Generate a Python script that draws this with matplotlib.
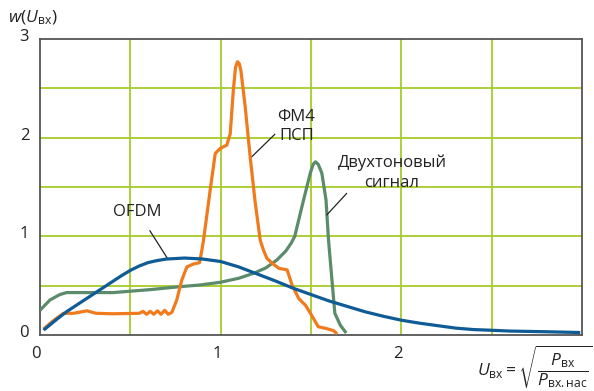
"""
Amplitude distribution w(U_vx) at the amplifier input for three signal
types: OFDM, FM4 with pseudo-random sequence, and a two-tone signal.
"""

import matplotlib

matplotlib.use("Agg")
import matplotlib.pyplot as plt

plt.rcParams["font.family"] = ["Open Sans", "DejaVu Sans"]
plt.rcParams["mathtext.fontset"] = "custom"
plt.rcParams["mathtext.rm"] = "Open Sans"
plt.rcParams["mathtext.it"] = "Open Sans:italic"

# ----- data -----
ofdm_x = [0.02, 0.1, 0.15, 0.2, 0.3, 0.4, 0.45, 0.5, 0.55, 0.6, 0.65, 0.7,
          0.8, 0.9, 1.0, 1.1, 1.2, 1.3, 1.4, 1.5, 1.6, 1.7, 1.8, 1.9, 2.0,
          2.1, 2.2, 2.3, 2.4, 2.5, 2.6, 2.8, 2.99]
ofdm_y = [0.05, 0.17, 0.24, 0.30, 0.42, 0.54, 0.60, 0.655, 0.70, 0.735,
          0.755, 0.77, 0.78, 0.77, 0.745, 0.69, 0.62, 0.55, 0.475, 0.41,
          0.345, 0.29, 0.235, 0.19, 0.15, 0.12, 0.095, 0.07, 0.055, 0.048,
          0.04, 0.033, 0.025]

fm4_x = [0.02, 0.07, 0.13, 0.185, 0.26, 0.31, 0.4, 0.55, 0.57, 0.59, 0.61,
         0.63, 0.65, 0.67, 0.69, 0.71, 0.73, 0.757, 0.785, 0.813, 0.85,
         0.883, 0.896, 0.905, 0.942, 0.97, 0.997, 1.034, 1.053, 1.07, 1.082,
         1.093, 1.103, 1.112, 1.136, 1.163, 1.19, 1.219, 1.237, 1.256,
         1.286, 1.322, 1.368, 1.395, 1.432, 1.47, 1.497, 1.54, 1.588,
         1.625, 1.645]
fm4_y = [0.06, 0.14, 0.22, 0.22, 0.245, 0.22, 0.215, 0.22, 0.24, 0.21, 0.24,
         0.21, 0.245, 0.21, 0.25, 0.21, 0.23, 0.355, 0.557, 0.69, 0.72,
         0.733, 0.86, 0.96, 1.47, 1.84, 1.89, 1.925, 2.04, 2.48, 2.71,
         2.77, 2.75, 2.68, 2.31, 1.81, 1.36, 0.96, 0.86, 0.777, 0.726,
         0.676, 0.66, 0.507, 0.37, 0.3, 0.22, 0.084, 0.064, 0.044, 0.01]

tone_x = [0.0, 0.055, 0.11, 0.148, 0.25, 0.406, 0.61, 0.776, 0.886, 0.997,
          1.1, 1.182, 1.25, 1.311, 1.36, 1.39, 1.41, 1.459, 1.496, 1.512,
          1.525, 1.54, 1.56, 1.583, 1.597, 1.616, 1.632, 1.662, 1.695]
tone_y = [0.25, 0.355, 0.41, 0.43, 0.43, 0.43, 0.46, 0.49, 0.507, 0.534,
          0.575, 0.625, 0.68, 0.76, 0.85, 0.93, 1.0, 1.37, 1.64, 1.73,
          1.755, 1.73, 1.64, 1.37, 0.96, 0.557, 0.22, 0.1, 0.02]

x_ticks = [0, 1, 2]
y_ticks = [0, 1, 2, 3]

BLUE = "#0e5b96"
ORANGE = "#f07a1c"
GREEN = "#5b8b6a"
GRID = "#a6cc28"
SPINE = "#555555"

fig = plt.figure(figsize=(5.94, 3.91), dpi=100)
ax = fig.add_axes([40 / 594, 56 / 391, 542 / 594, 296 / 391])

lw = 2.3
style = dict(lw=lw, solid_capstyle="butt", solid_joinstyle="round")
ax.plot(tone_x, tone_y, color=GREEN, zorder=3, **style)
ax.plot(fm4_x, fm4_y, color=ORANGE, zorder=4, **style)
ax.plot(ofdm_x, ofdm_y, color=BLUE, zorder=5, **style)

ax.set_xlim(0, 3.0)
ax.set_ylim(0, 3.0)
ax.set_xticks([0.5, 1.0, 1.5, 2.0, 2.5])
ax.set_yticks([0.5, 1.0, 1.5, 2.0, 2.5])
ax.grid(True, color=GRID, lw=1.3)
ax.set_axisbelow(True)
ax.tick_params(length=0, labelbottom=False, labelleft=False)
for s in ax.spines.values():
    s.set_color(SPINE)
    s.set_linewidth(1.3)

# tick labels placed by hand so they sit like the reference
for v in x_ticks:
    ax.text(v - 0.02, -0.19, str(v), ha="center", va="center", fontsize=12,
            color="#222222", clip_on=False)
for v in y_ticks:
    ax.text(-0.06, v + 0.02, str(v), ha="right", va="center", fontsize=12,
            color="#222222", clip_on=False)

# annotations
ax.annotate("OFDM", xy=(0.705, 0.778), xytext=(0.541, 1.25),
            ha="center", va="center", fontsize=12, color="#222222",
            arrowprops=dict(arrowstyle="-", color="#222222", lw=0.9,
                            shrinkA=7, shrinkB=0))
ax.annotate("ФМ4\nПСП", xy=(1.163, 1.79), xytext=(1.42, 2.115),
            ha="center", va="center", fontsize=12, color="#222222",
            linespacing=1.25,
            arrowprops=dict(arrowstyle="-", color="#222222", lw=0.9,
                            shrinkA=0, shrinkB=0,
                            relpos=(0.0, 0.35)))
ax.annotate("Двухтоновый\nсигнал", xy=(1.587, 1.216), xytext=(1.948, 1.646),
            ha="center", va="center", fontsize=12, color="#222222",
            linespacing=1.3,
            arrowprops=dict(arrowstyle="-", color="#222222", lw=0.9,
                            shrinkA=0, shrinkB=0,
                            relpos=(0.2, 0.3)))

# axis titles
fig.text(8 / 594, 1 - 18 / 391, r"$w(U_{\mathrm{вх}})$", ha="left",
         va="center", fontsize=12.5, color="#222222")
fig.text(0.999, 1 - 367 / 391,
         r"$U_{\mathrm{вх}} = \sqrt{\dfrac{P_{\mathrm{вх}}}{P_{\mathrm{вх.нас}}}}$",
         ha="right", va="center", fontsize=12.5, color="#222222")

fig.savefig("out.png", dpi=100)
